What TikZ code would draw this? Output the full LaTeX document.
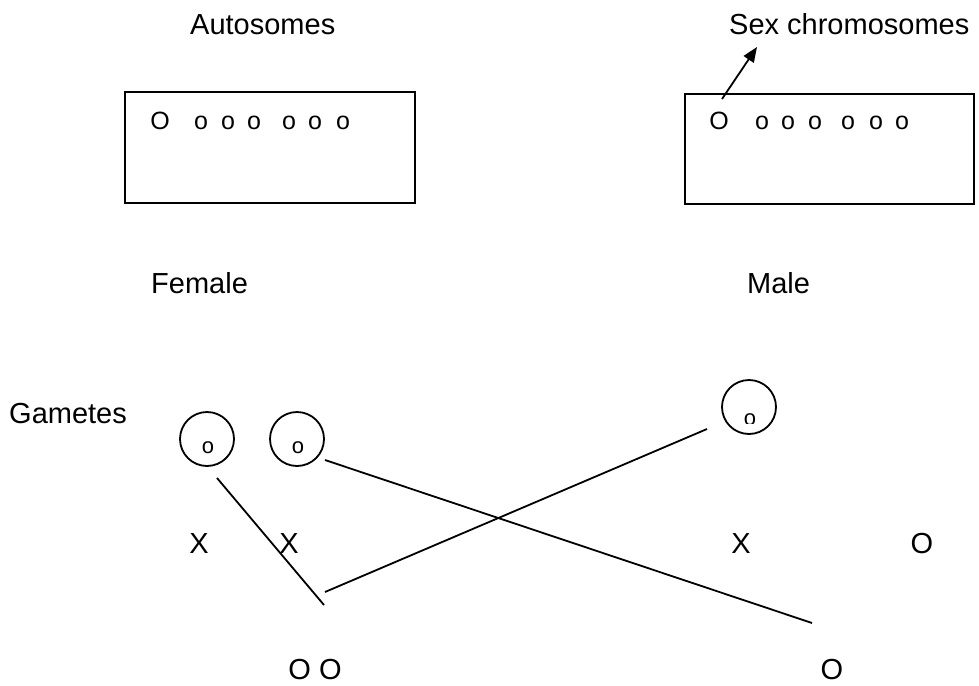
\documentclass[tikz,border=0pt]{standalone}
\usepackage{fontspec}
\setmainfont{Liberation Sans}
\usetikzlibrary{arrows.meta}
\begin{document}
\begin{tikzpicture}[x=1pt,y=-1pt,
  lbl/.style={inner sep=0pt,font=\fontsize{29}{34}\selectfont},
  chr/.style={inner sep=0pt,anchor=base,font=\fontsize{25}{29}\selectfont},
  gam/.style={inner sep=0pt,anchor=base,font=\fontsize{22}{26}\selectfont},
  box/.style={draw,line width=1.8pt},
  ln/.style={line width=1.8pt}]
\useasboundingbox (0,0) rectangle (979,685);
% titles
\node[lbl,anchor=base west] (auto) at (190,35) {Autosomes};
\node[lbl,anchor=base west] (sex) at (729,35) {Sex chromosomes};
% boxes
\draw[box] (125,92) rectangle (415,203);
\draw[box] (685,94) rectangle (974,204);
\node[chr] (fO) at (160,129) {O};
\foreach \x [count=\i] in {201,228,254,289,315,343}{\node[chr] (fo\i) at (\x,129) {o};}
\node[chr] (mO) at (719,129) {O};
\foreach \x [count=\i] in {762,788,815,848,876,902}{\node[chr] (mo\i) at (\x,129) {o};}
% arrow
\coordinate (as) at (722,99);
\coordinate (ae) at (757,47);
\draw[ln,-{Triangle[length=15pt,width=12pt]}] (as) -- (ae);
% sex labels
\node[lbl,anchor=base west] (female) at (151,293) {Female};
\node[lbl,anchor=base west] (male) at (747,293) {Male};
\node[lbl,anchor=base west] (gam) at (9,423) {Gametes};
% gamete circles
\node[draw,circle,line width=1.8pt,minimum size=54pt,inner sep=0pt] (c1) at (207,439) {};
\node[draw,circle,line width=1.8pt,minimum size=54pt,inner sep=0pt] (c2) at (297,439) {};
\node[draw,circle,line width=1.8pt,minimum size=54pt,inner sep=0pt] (c3) at (749,407) {};
\begin{scope}\clip (190,430) rectangle (225,453);
\node[gam] (g1) at (208,453) {o};\end{scope}
\begin{scope}\clip (280,430) rectangle (315,453);
\node[gam] (g2) at (298,453) {o};\end{scope}
\begin{scope}\clip (730,400) rectangle (770,423);
\node[gam] (g3) at (750,425) {o};\end{scope}
% X/O row
\node[lbl,anchor=base] (x1) at (199,553) {X};
\node[lbl,anchor=base] (x2) at (289,553) {X};
\node[lbl,anchor=base] (x3) at (741,553) {X};
\node[lbl,anchor=base] (o4) at (922,553) {O};
% bottom
\node[lbl,anchor=base] (oo) at (315,679) {O O};
\node[lbl,anchor=base] (o5) at (832,679) {O};
% lines
\coordinate (a1) at (217,478);
\coordinate (a2) at (324,605);
\coordinate (b1) at (325,592);
\coordinate (b2) at (707,429);
\coordinate (d1) at (325,460);
\coordinate (d2) at (812,623);
\draw[ln] (a1) -- (a2);
\draw[ln] (b1) -- (b2);
\draw[ln] (d1) -- (d2);
\end{tikzpicture}
\end{document}
